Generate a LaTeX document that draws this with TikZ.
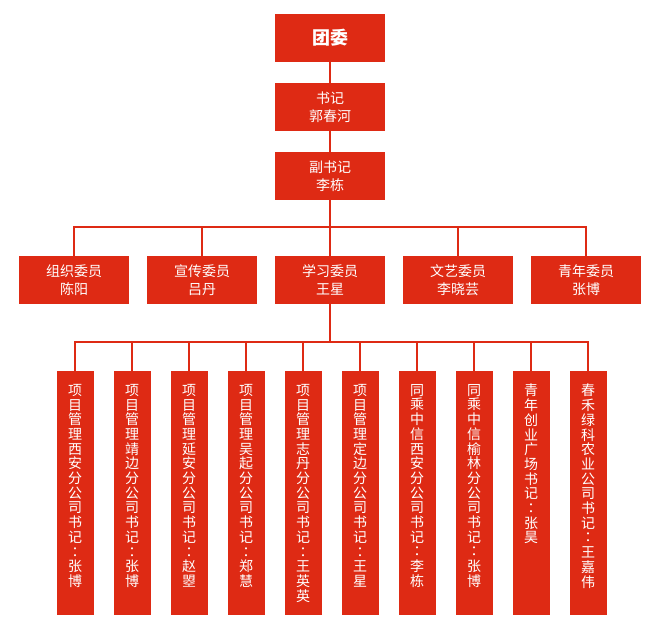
\documentclass[tikz,border=0pt]{standalone}
\usepackage{fontspec}
\newfontfamily\cjk{Noto Sans CJK SC}
\newfontfamily\cjktc{Noto Sans CJK TC}
\definecolor{hong}{RGB}{222,42,20}
\tikzset{
	kuang/.style={fill=hong, text=white, inner sep=0pt, minimum width=110pt, minimum height=48pt, align=center, font=\cjk\fontsize{14}{18}\selectfont},
	shu/.style={fill=hong, text=white, inner sep=0pt, anchor=north, font=\cjk\fontsize{14}{14.7}\selectfont},
	xian/.style={draw=hong, line width=2pt}
}
\def\shubox#1{\parbox[t][244pt][t]{37pt}{\centering\vspace*{13pt}#1}}
\def\mh{{\cjktc ：}}

\begin{document}
\begin{tikzpicture}[x=1pt, y=-1pt]
		%%%%% START %%%%%
		\useasboundingbox (0, 0) rectangle (660, 635);
		
		\node[kuang, font=\cjk\bfseries\fontsize{18}{20}\selectfont] (tuanwei) at (330, 38) {团委};
		\node[kuang] (shuji) at (330, 107) {书记\\郭春河};
		\node[kuang] (fushuji) at (330, 176) {副书记\\李栋};
		
		\node[kuang] (zuzhi) at (74, 280) {组织委员\\陈阳};
		\node[kuang] (xuanchuan) at (202, 280) {宣传委员\\吕丹};
		\node[kuang] (xuexi) at (330, 280) {学习委员\\王星};
		\node[kuang] (wenyi) at (458, 280) {文艺委员\\李晓芸};
		\node[kuang] (qingnian) at (586, 280) {青年委员\\张博};
		
		\node[shu] (b1) at (75, 371) {\shubox{项\\目\\管\\理\\西\\安\\分\\公\\司\\书\\记\\\mh\\张\\博}};
		\node[shu] (b2) at (132, 371) {\shubox{项\\目\\管\\理\\靖\\边\\分\\公\\司\\书\\记\\\mh\\张\\博}};
		\node[shu] (b3) at (189, 371) {\shubox{项\\目\\管\\理\\延\\安\\分\\公\\司\\书\\记\\\mh\\赵\\曌}};
		\node[shu] (b4) at (246, 371) {\shubox{项\\目\\管\\理\\吴\\起\\分\\公\\司\\书\\记\\\mh\\郑\\慧}};
		\node[shu] (b5) at (303, 371) {\shubox{项\\目\\管\\理\\志\\丹\\分\\公\\司\\书\\记\\\mh\\王\\英\\英}};
		\node[shu] (b6) at (360, 371) {\shubox{项\\目\\管\\理\\定\\边\\分\\公\\司\\书\\记\\\mh\\王\\星}};
		\node[shu] (b7) at (417, 371) {\shubox{同\\乘\\中\\信\\西\\安\\分\\公\\司\\书\\记\\\mh\\李\\栋}};
		\node[shu] (b8) at (474, 371) {\shubox{同\\乘\\中\\信\\榆\\林\\分\\公\\司\\书\\记\\\mh\\张\\博}};
		\node[shu] (b9) at (531, 371) {\shubox{青\\年\\创\\业\\广\\场\\书\\记\\\mh\\张\\昊}};
		\node[shu] (b10) at (588, 371) {\shubox{春\\禾\\绿\\科\\农\\业\\公\\司\\书\\记\\\mh\\王\\嘉\\伟}};
		
		\coordinate (zong1) at (330, 226.5);
		\coordinate (zong2) at (330, 341.5);
		
		\draw[xian] (tuanwei) -- (shuji);
		\draw[xian] (shuji) -- (fushuji);
		\draw[xian] (fushuji) -- (zong1);
		\draw[xian] (zong1) -| (zuzhi);
		\draw[xian] (zong1) -| (xuanchuan);
		\draw[xian] (zong1) -- (xuexi);
		\draw[xian] (zong1) -| (wenyi);
		\draw[xian] (zong1) -| (qingnian);
		
		\draw[xian] (xuexi) -- (zong2);
		\draw[xian] (zong2) -| (b1);
		\draw[xian] (zong2) -| (b2);
		\draw[xian] (zong2) -| (b3);
		\draw[xian] (zong2) -| (b4);
		\draw[xian] (zong2) -| (b5);
		\draw[xian] (zong2) -| (b6);
		\draw[xian] (zong2) -| (b7);
		\draw[xian] (zong2) -| (b8);
		\draw[xian] (zong2) -| (b9);
		\draw[xian] (zong2) -| (b10);
		
		%%%%% END %%%%%
	\end{tikzpicture}
\end{document}
